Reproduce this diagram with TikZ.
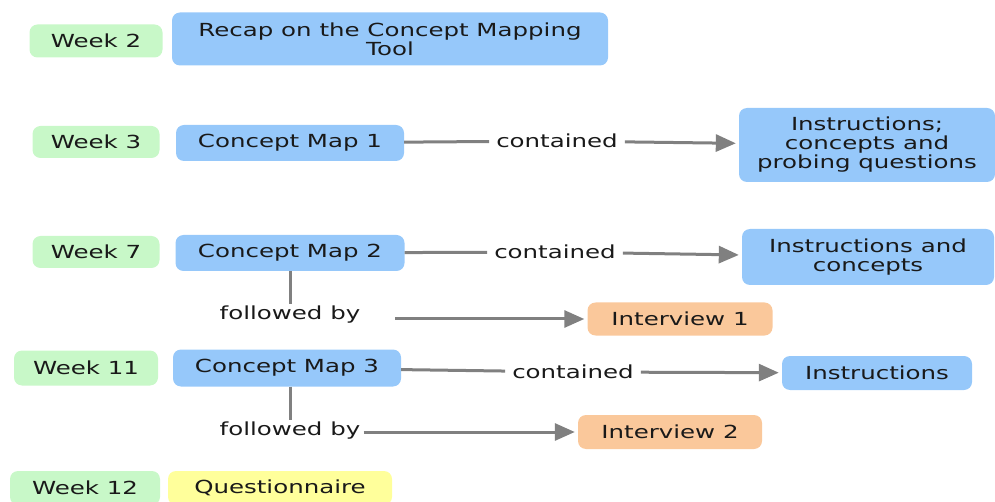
\documentclass[tikz,border=0pt]{standalone}
\usepackage{fontspec}
\setmainfont{DejaVu Sans}[FakeStretch=1.36]
\usetikzlibrary{arrows.meta}
\definecolor{wkgreen}{RGB}{200,248,200}
\definecolor{cmblue}{RGB}{150,200,250}
\definecolor{ivorange}{RGB}{250,200,155}
\definecolor{qyellow}{RGB}{255,255,155}
\definecolor{lnGray}{RGB}{128,128,128}
\definecolor{txt}{RGB}{25,25,25}
\tikzset{
  box/.style={rounded corners=8pt, inner sep=0pt, align=center, text=txt,
    font=\fontsize{18}{19}\selectfont},
  week/.style={box, fill=wkgreen},
  cmap/.style={box, fill=cmblue},
  ivw/.style={box, fill=ivorange},
  quest/.style={box, fill=qyellow},
  lbl/.style={inner sep=1pt, text=txt, font=\fontsize{18}{19}\selectfont},
  conn/.style={draw=lnGray, line width=3pt},
  arr/.style={conn, -{Triangle[length=20pt,width=17pt]}, shorten >=3pt}
}
\begin{document}
\begin{tikzpicture}[x=1pt,y=-1pt]
\useasboundingbox (0,0) rectangle (995,502);
% week labels
\node[week, minimum width=133pt, minimum height=33pt] (w2) at (96,41) {Week 2};
\node[week, minimum width=127pt, minimum height=32pt] (w3) at (96,142) {Week 3};
\node[week, minimum width=127pt, minimum height=32pt] (w7) at (96,252) {Week 7};
\node[week, minimum width=144pt, minimum height=35pt] (w11) at (86,368) {Week 11};
\node[week, minimum width=150pt, minimum height=34pt] (w12) at (85,488) {Week 12};
% main nodes
\node[cmap, minimum width=436pt, minimum height=53pt] (recap) at (390,39) {Recap on the Concept Mapping\\Tool};
\node[cmap, minimum width=228pt, minimum height=36pt] (cm1) at (290,143) {Concept Map 1};
\node[cmap, minimum width=256pt, minimum height=74pt] (ins1) at (867,145) {Instructions;\\concepts and\\probing questions};
\node[cmap, minimum width=229pt, minimum height=36pt] (cm2) at (290,253) {Concept Map 2};
\node[cmap, minimum width=252pt, minimum height=56pt] (ins2) at (868,257) {Instructions and\\concepts};
\node[ivw, minimum width=185pt, minimum height=33pt] (iv1) at (680,319) {Interview 1};
\node[cmap, minimum width=228pt, minimum height=37pt] (cm3) at (287,368) {Concept Map 3};
\node[cmap, minimum width=190pt, minimum height=34pt] (ins3) at (877,373) {Instructions};
\node[ivw, minimum width=184pt, minimum height=34pt] (iv2) at (670,432) {Interview 2};
\node[quest, minimum width=224pt, minimum height=34pt] (q) at (280,488) {Questionnaire};
% link labels
\node[lbl, inner xsep=7pt] (c1) at (557,141) {contained};
\node[lbl, inner xsep=7pt] (c2) at (555,252) {contained};
\node[lbl, inner xsep=7pt] (c3) at (573,372) {contained};
\node[lbl, inner ysep=2pt] (f1) at (290,315) {followed by};
\node[lbl, inner xsep=3pt, inner ysep=2pt] (f2) at (290,431) {followed by};
\coordinate (f1s) at (395,319);
% connectors
\draw[conn] (cm1) -- (c1);
\draw[arr] (c1) -- (ins1);
\draw[conn] (cm2) -- (c2);
\draw[arr] (c2) -- (ins2);
\draw[conn] (cm3) -- (c3);
\draw[arr] (c3) -- (ins3);
\draw[conn] (cm2.south -| f1.north) -- (f1.north);
\draw[arr] (f1s) -- (iv1);
\draw[conn] (cm3.south -| f2.north) -- (f2.north);
\draw[arr] (f2.east |- iv2) -- (iv2);
\end{tikzpicture}
\end{document}
